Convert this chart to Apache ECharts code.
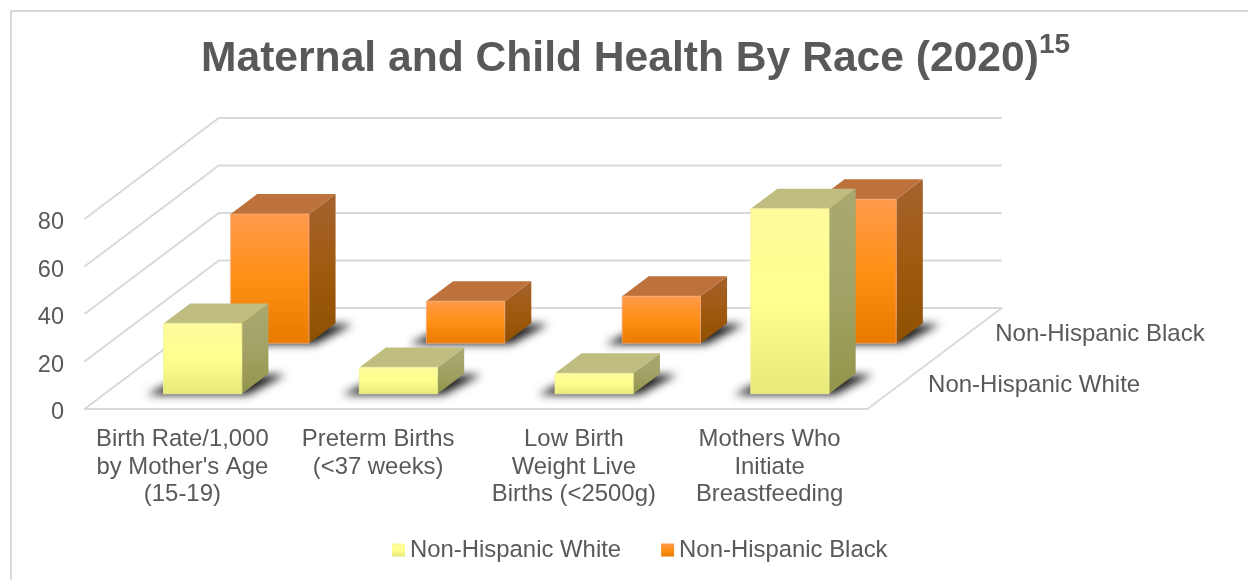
<!DOCTYPE html>
<html><head><meta charset="utf-8">
<style>html,body{margin:0;padding:0;background:#fff}#c{width:1248px;height:580px}</style>
<script src="https://cdn.jsdelivr.net/npm/echarts@6/dist/echarts.min.js"></script>
</head><body><div id="c"></div>
<script>
const categories = ["Birth Rate/1,000\nby Mother's Age\n(15-19)", "Preterm Births\n(<37 weeks)", "Low Birth\nWeight Live\nBirths (<2500g)", "Mothers Who\nInitiate\nBreastfeeding"];
const seriesNames = ["Non-Hispanic White", "Non-Hispanic Black"];
const whiteValues = [29.6, 11.1, 8.6, 77.9];
const blackValues = [54.4, 17.7, 19.8, 60.6];
const yTicks = [0, 20, 40, 60, 80];

const FONT = '"Liberation Sans", Arial, sans-serif';
const TEXT = '#595959', GRID = '#d9d9d9';
// oblique projection of the floor depth
const DEPTH = 101, SKEW = 1.33, BAR_RATIO = 0.4, BAR_DEPTH = 20, OFF = 3000;
const lin = (a, b, c) => ({type:'linear',x:0,y:0,x2:0,y2:1,colorStops:[{offset:0,color:a},{offset:.5,color:b},{offset:1,color:c}]});
const palette = [
  {front: lin('#fdfb9c','#ffff8e','#e6e877'), side: lin('#a9a870','#a3a266','#93954a'), top:'#bfbd80', edge:'#f4f3a0'},
  {front: lin('#ff9a4c','#ff9015','#e87a00'), side: lin('#a5622e','#a05a10','#8f5000'), top:'#bc723a', edge:'#f5a878'}
];
const proj = (p, d) => [p[0] + d * SKEW, p[1] - d];

function wallItem(params, api) {
  const r = params.coordSys, v = api.value(1);
  const y = api.coord([0, v])[1], x0 = r.x, x1 = r.x + r.width;
  const a = [x0, y], b = proj(a, DEPTH), c = proj([x1, y], DEPTH);
  const st = {stroke: GRID, lineWidth: 2, fill: null};
  const kids = [{type:'polyline', shape:{points:[a, b, c]}, style: st}];
  if (v === 0) {
    kids.push({type:'polyline', shape:{points:[[x1, y], c]}, style: st});
    seriesNames.forEach((n, s) => {
      const p = proj([x1, y], DEPTH * (s + .5) / 2);
      kids.push({type:'text', style:{x: p[0] + 27, y: p[1] + 1.5, text: n, fill: TEXT, font: '24px ' + FONT, verticalAlign:'middle', align:'left'}});
    });
  }
  return {type:'group', children: kids};
}

function barItem(s) {
  return function (params, api) {
    const c = palette[s], band = api.size([1, 0])[0], w = band * BAR_RATIO;
    const i = api.value(0), v = api.value(1);
    const base = api.coord([i, 0]), top = api.coord([i, v]);
    const dc = DEPTH * (s + .5) / 2, d0 = dc - BAR_DEPTH / 2, d1 = dc + BAR_DEPTH / 2;
    const l = base[0] - w / 2, rr = base[0] + w / 2;
    const A = proj([l, base[1]], d0), B = proj([rr, base[1]], d0);
    const T = proj([l, top[1]], d0), U = proj([rr, top[1]], d0);
    const B2 = proj([rr, base[1]], d1), U2 = proj([rr, top[1]], d1), T2 = proj([l, top[1]], d1);
    const edge = {stroke: c.edge, lineWidth: .8};
    // floor shadow: the polygon sits off-canvas and only its blurred shadow lands on the floor
    const shadow = [[A[0] - 17, A[1] + 1], [B[0] + 6, B[1] + 1], [B2[0] + 17, B2[1] + 1], [A[0] + 24, B2[1] + 1]]
      .map(p => [p[0] - OFF, p[1]]);
    return {type:'group', children:[
      {type:'polygon', shape:{points:shadow}, style:{fill:'#000', shadowBlur:9, shadowOffsetX:OFF, shadowColor:'rgba(30,30,30,1)'}},
      {type:'polygon', shape:{points:[B, B2, U2, U]}, style:{fill:c.side}},
      {type:'polygon', shape:{points:[T, U, U2, T2]}, style:{fill:c.top}},
      {type:'polygon', shape:{points:[A, B, U, T]}, style:{fill:c.front, ...edge}}
    ]};
  };
}

const chart = echarts.init(document.getElementById('c'), null, {renderer:'canvas'});
chart.setOption({
  animation:false,
  backgroundColor:'#fff',
  textStyle:{fontFamily:FONT, color:TEXT},
  graphic:[{type:'rect', silent:true, z:-1, shape:{x:11,y:11,width:1400,height:800}, style:{fill:'#fff',stroke:GRID,lineWidth:2}}],
  title:{left:201, top:31, padding:0,
    text:'{a|Maternal and Child Health By Race (2020)}{b|15}',
    textStyle:{rich:{
      a:{fontFamily:FONT,fontWeight:'bold',fontSize:42.6,color:TEXT,lineHeight:56},
      b:{fontFamily:FONT,fontWeight:'bold',fontSize:28,color:TEXT,verticalAlign:'top',lineHeight:36}
    }}},
  legend:{left:392, top:538, padding:0, itemWidth:13, itemHeight:13, itemGap:40, icon:'rect',
    data:seriesNames, textStyle:{fontFamily:FONT,fontSize:23.9,color:TEXT}, selectedMode:false},
  grid:{left:84.5, right:380.5, top:219, bottom:171, containLabel:false},
  xAxis:{type:'category', data:categories, axisTick:{show:false}, splitLine:{show:false},
    axisLine:{show:true,lineStyle:{color:GRID,width:2}},
    axisLabel:{interval:0,color:TEXT,fontFamily:FONT,fontSize:23.9,lineHeight:27.5,margin:17}},
  yAxis:{type:'value', min:0, max:80, interval:20, splitLine:{show:false}, axisTick:{show:false}, axisLine:{show:false},
    axisLabel:{margin:20.5, formatter:'{v|{value}}',
      rich:{v:{color:TEXT,fontFamily:FONT,fontSize:23.5,padding:[8,0,0,0]}}}},
  series:[
    {type:'custom', renderItem:wallItem, silent:true, z:1, data:yTicks.map(v=>[0,v])},
    {type:'custom', name:seriesNames[1], renderItem:barItem(1), z:2, itemStyle:{color:palette[1].front}, data:blackValues.map((v,i)=>[i,v])},
    {type:'custom', name:seriesNames[0], renderItem:barItem(0), z:3, itemStyle:{color:palette[0].front}, data:whiteValues.map((v,i)=>[i,v])}
  ]
});
</script></body></html>
